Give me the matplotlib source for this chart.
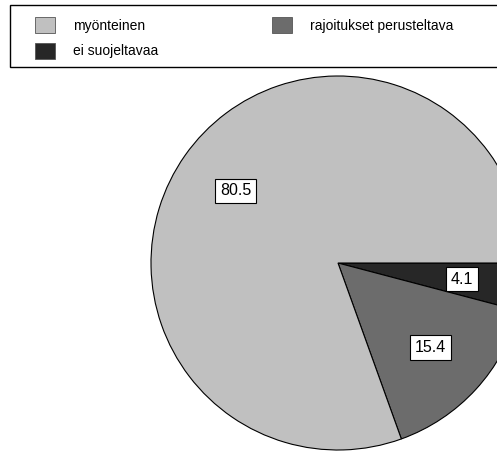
import matplotlib
matplotlib.use("Agg")
import matplotlib.pyplot as plt
from matplotlib.patches import Rectangle, Patch

plt.rcParams['font.family'] = ['Liberation Sans', 'DejaVu Sans']

# data (clockwise from 3 o'clock)
categories = ["ei suojeltavaa", "rajoitukset perusteltava", "myönteinen"]
values = [4.1, 15.4, 80.5]
colors = ["#272727", "#6c6c6c", "#c0c0c0"]

W, H = 497, 454
fig = plt.figure(figsize=(W / 100, H / 100), dpi=100)
ax = fig.add_axes([0, 0, 1, 1])

wedges, texts, autotexts = ax.pie(
    values, colors=colors, startangle=0, counterclock=False,
    center=(338, H - 263), radius=187, frame=True,
    autopct='%.1f', pctdistance=0.67,
    wedgeprops=dict(edgecolor='black', linewidth=0.8),
    textprops=dict(fontsize=11.5, color='black'))
for t in autotexts:
    t.set_bbox(dict(facecolor='white', edgecolor='black', linewidth=0.8,
                    boxstyle='square,pad=0.3'))
ax.set_xlim(0, W)
ax.set_ylim(0, H)
ax.set_aspect('equal')
ax.axis('off')

# legend frame
fig.patches.append(Rectangle((10 / W, 1 - 67 / H), 1.0, 62 / H, transform=fig.transFigure,
                             facecolor='white', edgecolor='black', linewidth=1.0, zorder=0))

order = [2, 0, 1]
handles = [Patch(facecolor=colors[i], edgecolor='#555555', linewidth=0.6) for i in order]
labels = [categories[i] for i in order]
fig.legend(handles, labels, ncol=2, frameon=False, loc='upper left',
           bbox_to_anchor=(22.5 / W, 1 - 4.5 / H), fontsize=10,
           handlelength=1.45, handleheight=1.45, handletextpad=1.3,
           columnspacing=8.15, labelspacing=0.65)

fig.savefig("out.png", dpi=100)
